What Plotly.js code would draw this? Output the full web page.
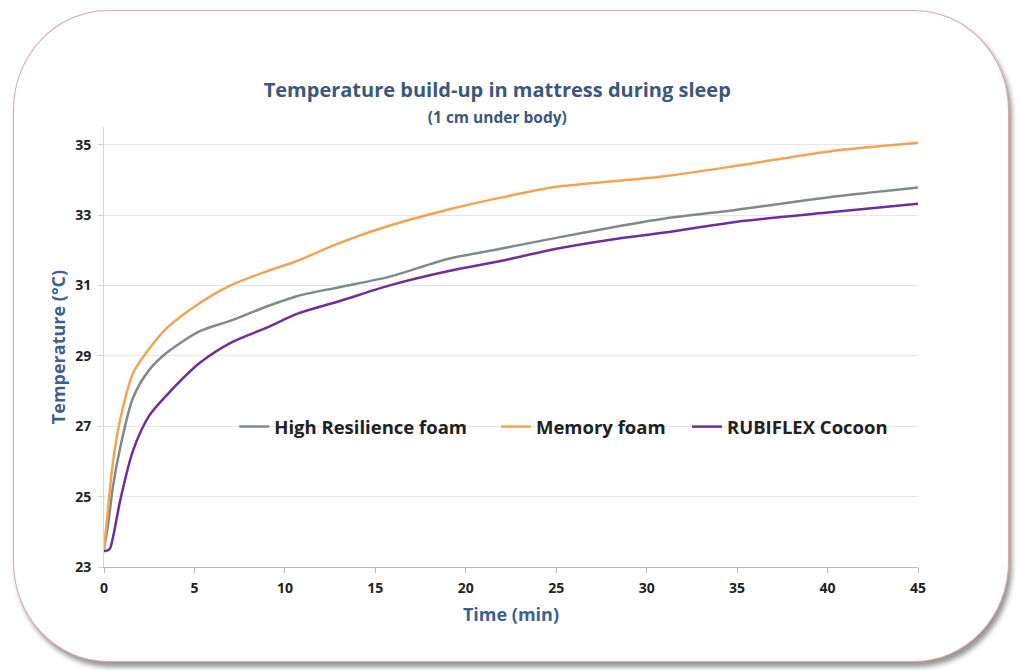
<!DOCTYPE html>
<html>
<head>
<meta charset="utf-8">
<script src="https://cdn.plot.ly/plotly-3.0.1.min.js"></script>
<style>
  html, body { margin: 0; padding: 0; background: #ffffff; }
  #frame {
    position: absolute; left: 13px; top: 10px; width: 996px; height: 652px;
    border: 1.5px solid #e3a6a6; border-radius: 95px / 100px;
    box-shadow: 3px 5px 5px rgba(80,80,80,0.6);
    background: #ffffff; box-sizing: border-box;
  }
  #chart { position: absolute; left: 0; top: 0; width: 1019px; height: 670px; }
</style>
</head>
<body>
<div id="frame"></div>
<div id="chart"></div>
<script>
const timeMin = [0, 0.25, 0.5, 0.9, 1.6, 2.5, 3.5, 5.3, 7, 9, 10.7, 13, 15.8, 19, 22, 25, 28, 31, 35, 40, 45];
const highResilience = [23.5, 24.3, 25.3, 26.4, 27.8, 28.6, 29.1, 29.7, 30.0, 30.4, 30.7, 30.95, 31.25, 31.75, 32.05, 32.35, 32.64, 32.9, 33.15, 33.5, 33.78];
const memoryFoam = [23.5, 24.8, 26.0, 27.2, 28.5, 29.2, 29.8, 30.5, 31.0, 31.4, 31.7, 32.2, 32.7, 33.15, 33.5, 33.8, 33.95, 34.1, 34.4, 34.8, 35.05];
const rubiflexTime = [0, 0.3, 0.5, 0.9, 1.6, 2.5, 3.5, 5.3, 7, 9, 10.7, 13, 15.8, 19, 22, 25, 28, 31, 35, 40, 45];
const rubiflex = [23.45, 23.5, 23.85, 24.9, 26.3, 27.3, 27.9, 28.8, 29.37, 29.8, 30.2, 30.55, 31.0, 31.4, 31.7, 32.04, 32.3, 32.5, 32.81, 33.07, 33.32];
const seriesNames = ["High Resilience foam", "Memory foam", "RUBIFLEX Cocoon"];
const xTicks = [0, 5, 10, 15, 20, 25, 30, 35, 40, 45];
const yTicks = [23, 25, 27, 29, 31, 33, 35];

const FONT = "'Open Sans', 'Liberation Sans', sans-serif";
const colors = ["#808a87", "#f4a352", "#6b2f9e"];
const legendIds = ["legend", "legend2", "legend3"];

const traces = [
  {x: timeMin, y: highResilience, name: seriesNames[0]},
  {x: timeMin, y: memoryFoam, name: seriesNames[1]},
  {x: rubiflexTime, y: rubiflex, name: seriesNames[2]}
].map((t, i) => Object.assign(t, {
  type: "scatter", mode: "lines", legend: legendIds[i],
  line: {color: colors[i], width: 2.5, shape: "spline", smoothing: 0.8}
}));

const legendBase = (x) => ({
  orientation: "h", x: x, xanchor: "left", y: 0.318, yanchor: "middle",
  bgcolor: "rgba(0,0,0,0)", borderwidth: 0,
  font: {family: FONT, size: 18.5, color: "#222", weight: "bold"}
});

const layout = {
  width: 1019, height: 670,
  paper_bgcolor: "rgba(0,0,0,0)", plot_bgcolor: "rgba(0,0,0,0)",
  margin: {l: 104, r: 101, t: 127, b: 103},
  font: {family: FONT, color: "#222"},
  title: {
    text: "<b>Temperature build-up in mattress during sleep</b><br><span style='font-size:15.5px'><b>(1 cm under body)</b></span>",
    font: {family: FONT, size: 20, color: "#3b587c"},
    x: 0.488, xanchor: "center", y: 0.855, yanchor: "middle"
  },
  xaxis: {
    range: [0, 45], tickvals: xTicks, ticktext: xTicks.map(String),
    showgrid: false, zeroline: false,
    showline: true, linecolor: "#b8b8b8", linewidth: 1,
    ticks: "outside", ticklen: 5, tickcolor: "#b8b8b8", ticklabelstandoff: 3,
    tickfont: {family: FONT, size: 14, color: "#222", weight: "bold"},
    title: {text: "<b>Time (min)</b>", font: {family: FONT, size: 18, color: "#3d5f94"}, standoff: 12}
  },
  yaxis: {
    range: [23, 35.5], tickvals: yTicks, ticktext: yTicks.map(String),
    showgrid: true, gridcolor: "#e6e6e6", gridwidth: 1, zeroline: false,
    showline: true, linecolor: "#d6d6d6", linewidth: 1,
    ticks: "outside", ticklen: 5, tickcolor: "#d6d6d6", ticklabelstandoff: 4,
    tickfont: {family: FONT, size: 14, color: "#222", weight: "bold"},
    title: {text: "<b>Temperature (°C)</b>", font: {family: FONT, size: 18, color: "#3d5f94"}, standoff: 4}
  },
  showlegend: true,
  legend: legendBase(0.160),
  legend2: legendBase(0.4815),
  legend3: legendBase(0.7162)
};

Plotly.newPlot("chart", traces, layout, {displayModeBar: false, staticPlot: true});
</script>
</body>
</html>
